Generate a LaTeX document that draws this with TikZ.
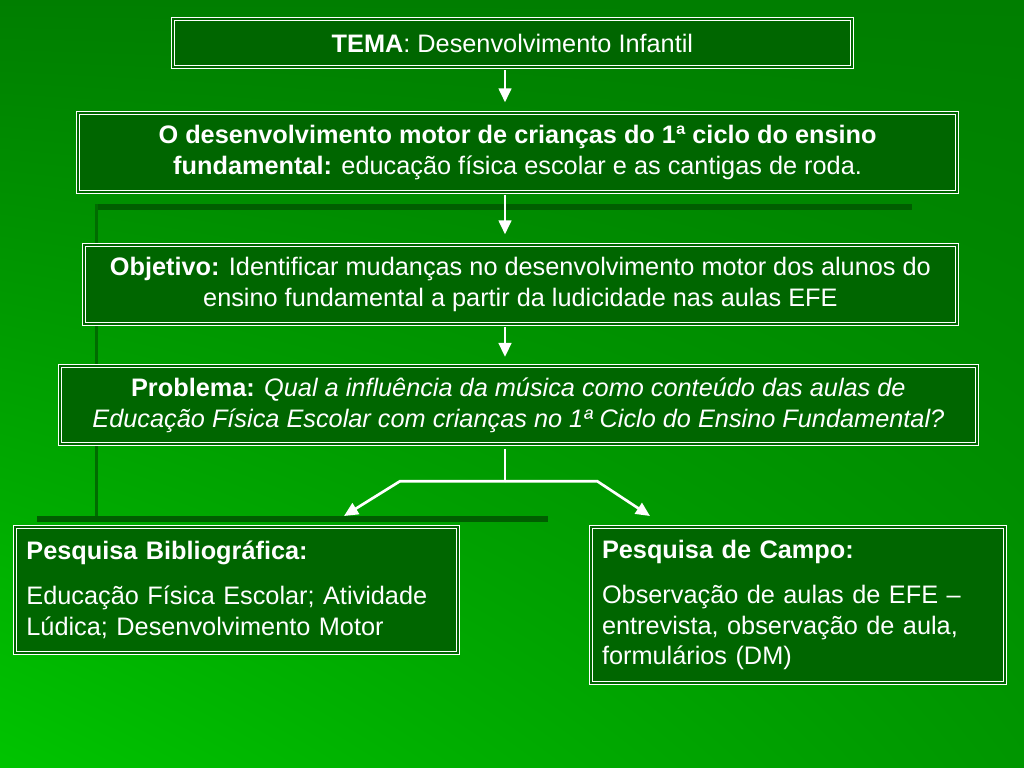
\documentclass[tikz,border=0pt]{standalone}
\usepackage{fontspec}
\setmainfont{Liberation Sans}
\usepackage{xcolor}
\definecolor{bgtop}{RGB}{0,126,0}
\definecolor{bgleft}{RGB}{0,196,0}
\definecolor{bgright}{RGB}{0,150,0}
\definecolor{boxgreen}{RGB}{0,102,0}
\definecolor{darkline}{RGB}{0,94,0}
\definecolor{softline}{RGB}{0,108,0}
\usetikzlibrary{arrows.meta,positioning,calc,shadings}
\tikzset{
  stage/.style={draw=white, line width=0.9pt, double=boxgreen, double distance=1.4pt, fill=boxgreen, text=white, align=center, inner sep=0pt, font=\fontsize{18}{22}\selectfont},
  arr/.style={-{Triangle[length=10pt,width=9pt]}, white, line width=1.9pt},
  link/.style={white, line width=1.9pt}
}
\begin{document}
\begin{tikzpicture}
  % background
  \shade[upper left=bgtop, upper right=bgtop, lower left=bgleft, lower right=bgright] (0,0) rectangle (25.6,-19.2);
  \useasboundingbox (0,0) rectangle (25.6,-19.2);
  \fill[darkline] (2.38,-5.1) rectangle (22.8,-5.24);
  \fill[softline] (2.38,-5.1) rectangle (2.46,-13.0);
  \fill[darkline] (0.92,-12.9) rectangle (13.7,-13.05);
  % boxes
  \node[stage, minimum width=16.98cm, minimum height=1.2cm] (tema) at (12.81,-1.075) {\textbf{TEMA}: Desenvolvimento Infantil};
  \node[stage, minimum width=21.98cm, minimum height=1.98cm] (motor) at (12.94,-3.81) {\textbf{O desenvolvimento motor de crianças do 1ª ciclo do ensino}\\\textbf{fundamental:} educação física escolar e as cantigas de roda.};
  \node[stage, minimum width=21.83cm, minimum height=1.98cm] (obj) at (13.01,-7.11) {\textbf{Objetivo:} Identificar mudanças no desenvolvimento motor dos alunos do\\ensino fundamental a partir da ludicidade nas aulas EFE};
  \node[stage, minimum width=22.93cm, minimum height=1.95cm] (prob) at (12.96,-10.125) {\textbf{Problema:} \textit{Qual a influência da música como conteúdo das aulas de}\\\textit{Educação Física Escolar com crianças no 1ª Ciclo do Ensino Fundamental?}};
  \node[stage, minimum width=11.08cm, minimum height=3.15cm, text width=10.5cm, align=left] (biblio) at (5.91,-14.75) {\textbf{Pesquisa Bibliográfica:}\\[10pt]Educação Física Escolar; Atividade\\Lúdica; Desenvolvimento Motor};
  \node[stage, minimum width=10.35cm, minimum height=3.9cm, text width=9.8cm, align=left] (campo) at (19.95,-15.125) {\textbf{Pesquisa de Campo:}\\[10pt]Observação de aulas de EFE –\\entrevista, observação de aula,\\formulários (DM)};
  % connectors
  \coordinate (ax) at (12.625,0);
  \coordinate (fk) at (12.625,-12.03);
  \coordinate (fl) at (10.0,-12.03);
  \coordinate (fr) at (14.93,-12.03);
  \coordinate (tl) at (8.6,-12.9);
  \coordinate (tr) at (16.25,-12.9);
  \draw[arr, shorten <=2pt, shorten >=7pt] (tema.south -| ax) -- (motor.north -| ax);
  \draw[arr, shorten <=2pt, shorten >=7pt] (motor.south -| ax) -- (obj.north -| ax);
  \draw[arr, shorten <=2pt, shorten >=6pt] (obj.south -| ax) -- (prob.north -| ax);
  \draw[link, shorten <=3pt] (prob.south -| ax) -- (fk);
  \draw[arr] (fk) -- (fl) -- (tl);
  \draw[arr] (fk) -- (fr) -- (tr);
\end{tikzpicture}
\end{document}
